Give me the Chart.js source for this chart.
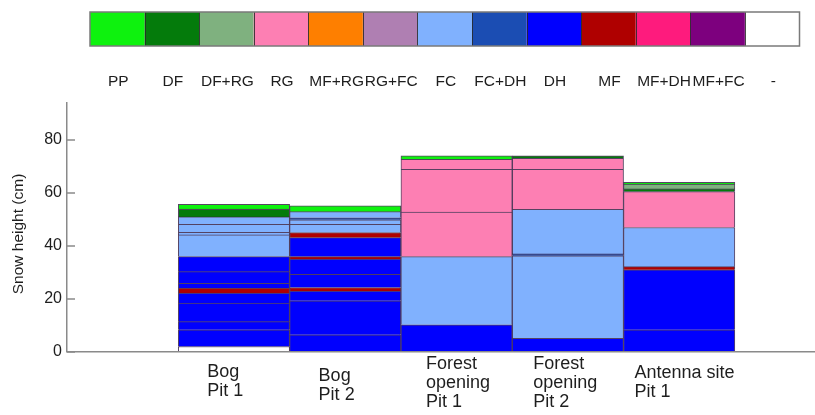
<!DOCTYPE html>
<html>
<head>
<meta charset="utf-8">
<script src="https://cdn.jsdelivr.net/npm/chart.js@4.4.1/dist/chart.umd.min.js"></script>
<style>
  html, body { margin: 0; padding: 0; background: #ffffff; overflow: hidden; }
  #wrap { width: 815px; height: 415px; position: relative; }
</style>
</head>
<body>
<div id="wrap"><canvas id="snowChart" width="815" height="415"></canvas></div>
<script>
// Snow pits (multi-line labels under each column)
const categories = [
  ['Bog', 'Pit 1'],
  ['Bog', 'Pit 2'],
  ['Forest', 'opening', 'Pit 1'],
  ['Forest', 'opening', 'Pit 2'],
  ['Antenna site', 'Pit 1']
];

// Grain type classes shown in the colour key
const grainTypes = ['PP', 'DF', 'DF+RG', 'RG', 'MF+RG', 'RG+FC', 'FC', 'FC+DH', 'DH', 'MF', 'MF+DH', 'MF+FC', '-'];

// Layer tops (cm above ground), listed from the ground up, with each layer's grain type
const bogPit1Tops  = [1.9, 8.2, 11.3, 18.3, 22.1, 24.0, 25.8, 30.2, 35.9, 44.1, 45.1, 48.1, 50.9, 53.9, 55.7];
const bogPit1Types = ['-', 'DH', 'DH', 'DH', 'DH', 'MF', 'DH', 'DH', 'DH', 'FC', 'FC', 'FC', 'FC', 'DF', 'PP'];

const bogPit2Tops  = [6.3, 19.2, 22.9, 24.2, 29.2, 35.0, 35.9, 43.1, 45.0, 48.1, 49.8, 50.6, 52.9, 55.1];
const bogPit2Types = ['DH', 'DH', 'DH', 'MF', 'DH', 'DH', 'MF', 'DH', 'MF', 'FC', 'FC', 'FC+DH', 'FC', 'PP'];

const forestPit1Tops  = [10.1, 35.9, 52.7, 68.9, 72.7, 74.0];
const forestPit1Types = ['DH', 'FC', 'RG', 'RG', 'RG', 'PP'];

const forestPit2Tops  = [5.0, 36.2, 36.9, 53.8, 68.9, 73.1, 74.0];
const forestPit2Types = ['DH', 'FC', 'FC+DH', 'FC', 'RG', 'RG', 'DF'];

const antennaPit1Tops  = [8.2, 30.9, 32.1, 46.9, 60.5, 61.5, 63.3, 64.0];
const antennaPit1Types = ['DH', 'DH', 'MF', 'FC', 'RG', 'DF', 'DF+RG', 'PP'];

// Y axis tick labels
const yTicks = [0, 20, 40, 60, 80];

// ---- styling ----
const FONT = "'Liberation Sans', Arial, Helvetica, sans-serif";
const TEXT = '#1e1e1e';
const AXIS = '#8a8a8a';
const typeColors = {
  'PP': '#0ef20e', 'DF': '#047b0b', 'DF+RG': '#7fb17f', 'RG': '#fd7fb3',
  'MF+RG': '#fe7f00', 'RG+FC': '#af7fb2', 'FC': '#80b1fe', 'FC+DH': '#1b4db3',
  'DH': '#0000fe', 'MF': '#af0000', 'MF+DH': '#fe1b7d', 'MF+FC': '#7d007e', '-': '#ffffff'
};
// horizontal placement / vertical baselines for the pit labels
const labelDx = [29, 29, 25, 21, 11];
const labelBaseline = [376.5, 380.5, 368.5, 368.5, 378];
const labelLineHeight = 19;

const pits = [
  { tops: bogPit1Tops, types: bogPit1Types },
  { tops: bogPit2Tops, types: bogPit2Types },
  { tops: forestPit1Tops, types: forestPit1Types },
  { tops: forestPit2Tops, types: forestPit2Types },
  { tops: antennaPit1Tops, types: antennaPit1Types }
];

// one floating-bar dataset per layer level; pit i sits in slot [i+1, i+2] on the x scale
const maxLayers = Math.max(...pits.map(p => p.tops.length));
const datasets = [];
for (let k = 0; k < maxLayers; k++) {
  const data = [];
  pits.forEach((p, i) => {
    if (k < p.tops.length) {
      data.push({ x: i + 1.5, y: [k === 0 ? 0 : p.tops[k - 1], p.tops[k]], type: p.types[k] });
    }
  });
  datasets.push({
    data,
    grouped: false,
    backgroundColor: ctx => (ctx.raw ? typeColors[ctx.raw.type] : 'transparent'),
    borderColor: 'rgba(45, 22, 60, 0.8)',
    borderWidth: 1,
    borderSkipped: 'start',
    barPercentage: 1,
    categoryPercentage: 1
  });
}

const decorations = {
  id: 'decorations',
  afterDraw(chart) {
    const { ctx, chartArea, scales } = chart;
    const xs = scales.x, ys = scales.y;
    ctx.save();

    // colour key strip
    const kx0 = 90, kx1 = 799.5, ky0 = 12, ky1 = 46;
    const cw = (kx1 - kx0) / grainTypes.length;
    grainTypes.forEach((t, i) => {
      ctx.fillStyle = typeColors[t];
      ctx.fillRect(kx0 + i * cw, ky0, cw, ky1 - ky0);
    });
    ctx.strokeStyle = 'rgba(40, 40, 40, 0.85)';
    ctx.lineWidth = 1;
    for (let i = 1; i < grainTypes.length; i++) {
      const x = Math.round(kx0 + i * cw) + 0.5;
      ctx.beginPath(); ctx.moveTo(x, ky0); ctx.lineTo(x, ky1); ctx.stroke();
    }
    ctx.strokeStyle = '#7a7a7a';
    ctx.lineWidth = 1.5;
    ctx.strokeRect(kx0, ky0, kx1 - kx0, ky1 - ky0);
    ctx.fillStyle = TEXT;
    ctx.font = `15.5px ${FONT}`;
    ctx.textAlign = 'center';
    ctx.textBaseline = 'alphabetic';
    grainTypes.forEach((t, i) => {
      ctx.fillText(t, kx0 + (i + 0.5) * cw + 1, 86);
    });

    // inward tick marks on the y axis
    ctx.strokeStyle = AXIS;
    ctx.lineWidth = 1.5;
    yTicks.forEach(v => {
      const y = Math.round(ys.getPixelForValue(v));
      ctx.beginPath(); ctx.moveTo(chartArea.left, y); ctx.lineTo(chartArea.left + 8, y); ctx.stroke();
    });

    // y axis title
    ctx.save();
    ctx.translate(19, 234);
    ctx.rotate(-Math.PI / 2);
    ctx.font = `15.5px ${FONT}`;
    ctx.fillStyle = TEXT;
    ctx.textAlign = 'center';
    ctx.textBaseline = 'middle';
    ctx.fillText('Snow height (cm)', 0, 0);
    ctx.restore();

    // pit labels under each column
    ctx.font = `18px ${FONT}`;
    ctx.fillStyle = TEXT;
    ctx.textAlign = 'left';
    ctx.textBaseline = 'alphabetic';
    categories.forEach((lines, i) => {
      const x = xs.getPixelForValue(i + 1) + labelDx[i];
      lines.forEach((line, j) => {
        ctx.fillText(line, x, labelBaseline[i] + j * labelLineHeight);
      });
    });
    ctx.restore();
  }
};

new Chart(document.getElementById('snowChart'), {
  type: 'bar',
  data: { datasets },
  options: {
    responsive: false,
    animation: false,
    devicePixelRatio: 1,
    layout: { padding: { top: 103, bottom: 63.5, left: 0, right: 0 } },
    plugins: { legend: { display: false }, tooltip: { enabled: false } },
    scales: {
      x: {
        type: 'linear',
        min: 0,
        max: 6.72,
        ticks: { display: false },
        grid: { drawOnChartArea: false, drawTicks: false },
        border: { display: true, color: AXIS, width: 1.5 },
        afterBuildTicks: s => { s.ticks = []; },
        afterFit: s => { s.height = 0; }
      },
      y: {
        min: 0,
        max: 94,
        ticks: { font: { size: 16, family: FONT }, color: TEXT, padding: 5 },
        grid: { drawOnChartArea: false, drawTicks: false },
        border: { display: true, color: AXIS, width: 1.5 },
        afterBuildTicks: s => { s.ticks = yTicks.map(v => ({ value: v })); },
        afterFit: s => { s.width = 67; }
      }
    }
  },
  plugins: [decorations]
});
</script>
</body>
</html>
